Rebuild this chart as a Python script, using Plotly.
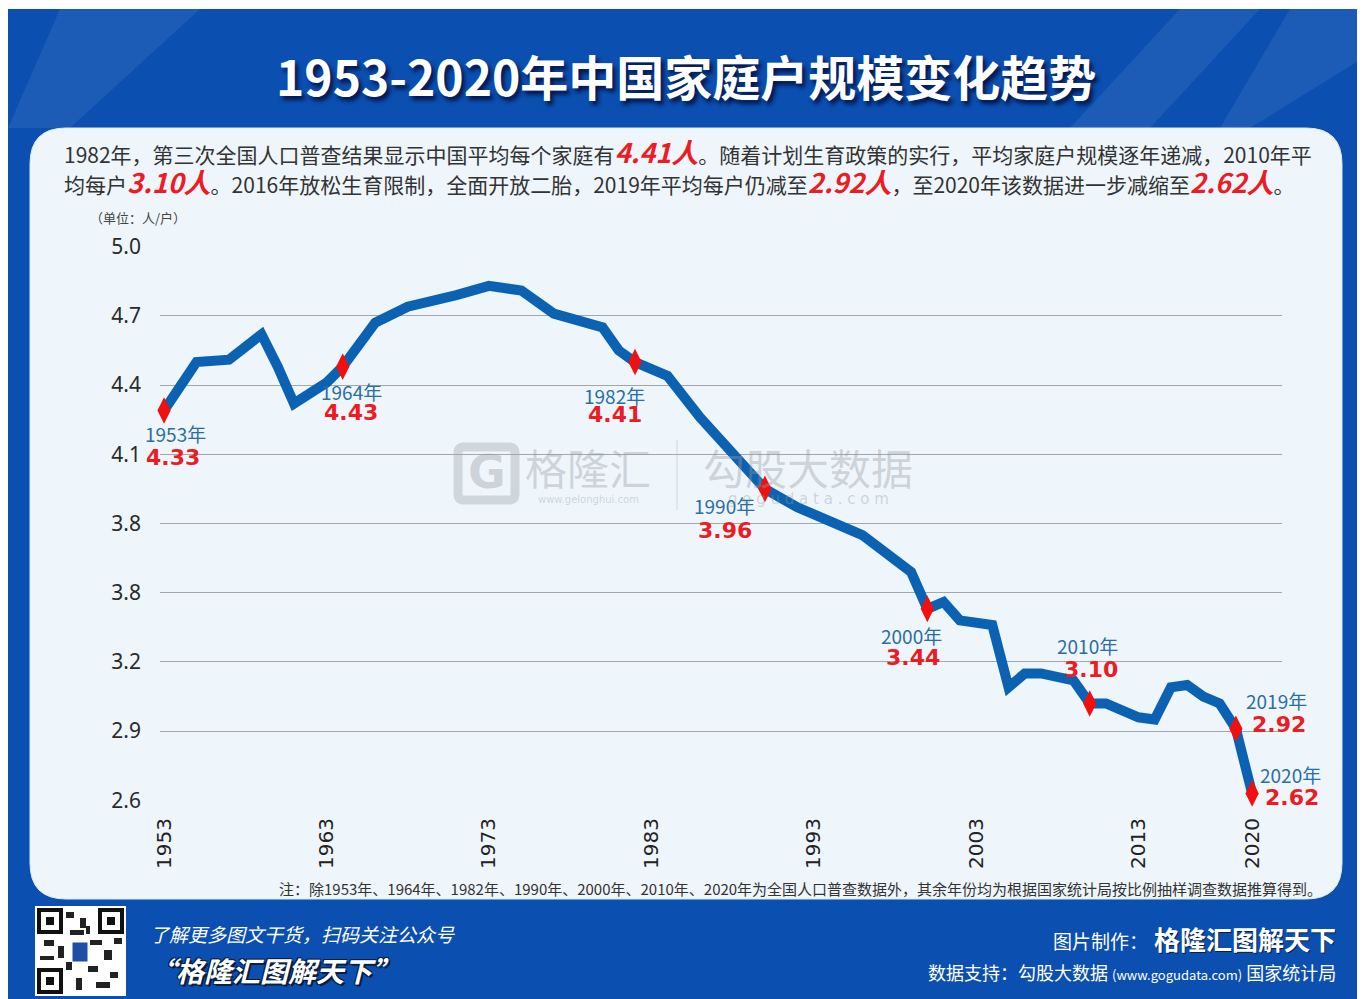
import plotly.graph_objects as go

# ---------------- data ----------------
years = [1953, 1955, 1957, 1959, 1960, 1961, 1963, 1964, 1966, 1968, 1971, 1973,
         1975, 1977, 1980, 1981, 1982, 1984, 1986, 1989, 1990, 1992, 1995, 1996,
         1999, 2000, 2001, 2002, 2004, 2005, 2006, 2007, 2009, 2010, 2011, 2013,
         2014, 2015, 2016, 2017, 2018, 2019, 2020]
household_size = [4.29, 4.50, 4.51, 4.62, 4.48, 4.32, 4.41, 4.48, 4.67, 4.74, 4.79, 4.83,
                  4.81, 4.71, 4.65, 4.55, 4.50, 4.44, 4.26, 4.02, 3.95, 3.87, 3.78, 3.75,
                  3.59, 3.43, 3.46, 3.38, 3.36, 3.09, 3.15, 3.15, 3.12, 3.02, 3.02, 2.96,
                  2.95, 3.09, 3.10, 3.05, 3.02, 2.91, 2.63]

census_years = [1953, 1964, 1982, 1990, 2000, 2010, 2019, 2020]
census_labels = ["4.33", "4.43", "4.41", "3.96", "3.44", "3.10", "2.92", "2.62"]
# label offsets (px) relative to marker: (year dx, year dy, value dx, value dy)
label_offsets = [(11, 23, 9, 47), (9, 25, 8, 46), (-21, 33, -20, 52), (-40, 17, -40, 42),
                 (-16, 27, -14, 49), (-2, -58, 1, -34), (41, -28, 43, -4), (38, -19, 40, 4)]

x_tick_vals = [1953, 1963, 1973, 1983, 1993, 2003, 2013, 2020]
x_tick_text = ["1953", "1963", "1973", "1983", "1993", "2003", "2013", "2020"]
y_tick_vals = [5.0, 4.7, 4.4, 4.1, 3.8, 3.5, 3.2, 2.9, 2.6]
y_tick_text = ["5.0", "4.7", "4.4", "4.1", "3.8", "3.8", "3.2", "2.9", "2.6"]

# ---------------- geometry helpers (page pixel coords, page has 8px body margin) ----------------
OFF = 8
FW, FH = 1352, 991
PL, PR, PT, PB = 160, 1282, 246, 801          # plot area in page pixels
L, R, T, B = PL - OFF, FW - (PR - OFF), PT - OFF, FH - (PB - OFF)
PW = PR - PL
PH = PB - PT


def px(x):
    return (x - PL) / PW


def py(y):
    return (PB - y) / PH


def rrect(x0, y0, x1, y1, r):
    pts = [
        ("M", [(x0 + r, y0)]), ("L", [(x1 - r, y0)]), ("Q", [(x1, y0), (x1, y0 + r)]),
        ("L", [(x1, y1 - r)]), ("Q", [(x1, y1), (x1 - r, y1)]), ("L", [(x0 + r, y1)]),
        ("Q", [(x0, y1), (x0, y1 - r)]), ("L", [(x0, y0 + r)]), ("Q", [(x0, y0), (x0 + r, y0)]),
    ]
    s = ""
    for cmd, ps in pts:
        s += cmd + " " + " ".join(f"{px(a):.5f},{py(b):.5f}" for a, b in ps) + " "
    return s + "Z"


def poly(points):
    return "M " + " L ".join(f"{px(a):.5f},{py(b):.5f}" for a, b in points) + " Z"


CJK = "Noto Sans CJK SC"
RED = "#ec1c24"
TEAL = "#2b6ea3"
LINE_BLUE = "#0b62b2"

fig = go.Figure()

fig.add_trace(go.Scatter(
    x=years, y=household_size, mode="lines",
    line=dict(color=LINE_BLUE, width=10), hoverinfo="skip", showlegend=False))

marker_y = [household_size[years.index(yr)] for yr in census_years]
fig.add_trace(go.Scatter(
    x=census_years, y=marker_y, mode="markers", cliponaxis=False,
    marker=dict(symbol="diamond-tall", size=19, color="#f01010", line=dict(width=0)),
    hoverinfo="skip", showlegend=False))

shapes = []
# blue background frame
shapes.append(dict(type="rect", xref="paper", yref="paper", x0=px(8), x1=px(1360),
                   y0=py(999), y1=py(9), fillcolor="#0b4fb1", line=dict(width=0), layer="below"))
# diagonal light stripes in header
for pts in ([(60, 9), (200, 9), (70, 128), (-70, 128)],
            [(1180, 9), (1260, 9), (1150, 128), (1070, 128)],
            [(1290, 9), (1360, 9), (1360, 60), (1250, 128), (1220, 128)]):
    pts = [(max(8, a), b) for a, b in pts]
    shapes.append(dict(type="path", xref="paper", yref="paper", path=poly(pts),
                       fillcolor="rgba(255,255,255,0.07)", line=dict(width=0), layer="below"))
# inner panel
shapes.append(dict(type="path", xref="paper", yref="paper",
                   path=rrect(30, 128, 1342, 899, 36),
                   fillcolor="#eef6fc", line=dict(color="#dce9f6", width=1), layer="below"))
# QR code placeholder
shapes.append(dict(type="rect", xref="paper", yref="paper", x0=px(35), x1=px(126),
                   y0=py(996), y1=py(906), fillcolor="white", line=dict(width=0), layer="below"))
for (qx, qy) in [(39, 910), (100, 910), (39, 970)]:
    shapes.append(dict(type="rect", xref="paper", yref="paper", x0=px(qx), x1=px(qx + 22),
                       y0=py(qy + 22), y1=py(qy), fillcolor="white",
                       line=dict(color="#111", width=4), layer="below"))
    shapes.append(dict(type="rect", xref="paper", yref="paper", x0=px(qx + 7), x1=px(qx + 15),
                       y0=py(qy + 15), y1=py(qy + 7), fillcolor="#111",
                       line=dict(width=0), layer="below"))
for (qx, qy, w, h) in [(66, 912, 8, 6), (80, 918, 6, 10), (70, 930, 14, 5), (44, 940, 10, 6),
                       (58, 946, 6, 12), (90, 940, 12, 5), (104, 950, 8, 10), (66, 962, 6, 8),
                       (88, 966, 10, 6), (76, 978, 6, 12), (96, 982, 14, 6), (110, 972, 8, 6),
                       (40, 956, 14, 4), (86, 926, 4, 8), (114, 938, 8, 6)]:
    shapes.append(dict(type="rect", xref="paper", yref="paper", x0=px(qx), x1=px(qx + w),
                       y0=py(qy + h), y1=py(qy), fillcolor="#222", line=dict(width=0),
                       layer="below"))
shapes.append(dict(type="rect", xref="paper", yref="paper", x0=px(72), x1=px(88),
                   y0=py(962), y1=py(942), fillcolor="#1e4fa8", line=dict(color="white", width=1),
                   layer="below"))
# watermark logo box + divider
shapes.append(dict(type="path", xref="paper", yref="paper",
                   path=rrect(458, 447, 515, 500, 6), fillcolor="rgba(0,0,0,0)",
                   line=dict(color="rgba(150,155,160,0.35)", width=9), layer="below"))
shapes.append(dict(type="line", xref="paper", yref="paper", x0=px(677), x1=px(677),
                   y0=py(440), y1=py(510), line=dict(color="rgba(150,155,160,0.35)", width=1),
                   layer="below"))

annotations = []


def ann(text, x, y, size, color, family=CJK, xanchor="center", weight="normal",
        style="normal", shadow="none", opacity=1.0):
    annotations.append(dict(text=text, xref="paper", yref="paper", x=px(x), y=py(y),
                            xanchor=xanchor, yanchor="middle", showarrow=False,
                            opacity=opacity,
                            font=dict(family=family, size=size, color=color, weight=weight,
                                      style=style, shadow=shadow)))


# title
ann("1953-2020年中国家庭户规模变化趋势", 686, 75, 48, "white", weight="bold",
    shadow="3px 4px 4px rgba(0,0,40,0.75)")

# description
red_span = '<span style="color:%s;font-size:27px;font-weight:bold;font-style:italic">%s</span>'
ann("1982年，第三次全国人口普查结果显示中国平均每个家庭有" + red_span % (RED, "4.41人")
    + "。随着计划生育政策的实行，平均家庭户规模逐年递减，2010年平",
    62, 151, 21, "#333333", xanchor="left")
ann("均每户" + red_span % (RED, "3.10人") + "。2016年放松生育限制，全面开放二胎，2019年平均每户仍减至"
    + red_span % (RED, "2.92人") + "，至2020年该数据进一步减缩至" + red_span % (RED, "2.62人") + "。",
    62, 181, 21, "#333333", xanchor="left")

ann("（单位：人/户）", 88, 217, 13, "#444444", xanchor="left")

# watermark
wm = "rgba(150,155,160,0.38)"
ann("G", 487, 472, 46, wm, family="DejaVu Sans", weight="bold")
ann("格隆汇", 588, 466, 42, wm)
ann("www.gelonghui.com", 588, 499, 10, wm, family="DejaVu Sans")
ann("勾股大数据", 808, 466, 42, wm)
ann("g o g u d a t a . c o m", 808, 499, 15, wm, family="DejaVu Sans")

# note
ann("注：除1953年、1964年、1982年、1990年、2000年、2010年、2020年为全国人口普查数据外，"
    "其余年份均为根据国家统计局按比例抽样调查数据推算得到。",
    800, 888, 15, "#333333")

# footer
ann("了解更多图文干货，扫码关注公众号", 148, 933, 19, "white", xanchor="left", style="italic")
ann("“格隆汇图解天下”", 146, 970, 28, "white", xanchor="left", weight="bold", style="italic",
    shadow="2px 2px 0 #0a1e40, -1px -1px 0 #0a1e40, 1px -1px 0 #0a1e40, -1px 1px 0 #0a1e40")
ann("图片制作：", 1150, 940, 19, "white", xanchor="right")
ann("格隆汇图解天下", 1338, 938, 26, "white", xanchor="right", weight="bold",
    shadow="1px 1px 0 #0a1e40")
ann("数据支持：勾股大数据 <span style='font-size:13px'>(www.gogudata.com)</span> 国家统计局",
    1338, 972, 18, "white", xanchor="right")

# census labels
for yr, lab, (ydx, ydy, vdx, vdy) in zip(census_years, census_labels, label_offsets):
    v = household_size[years.index(yr)]
    annotations.append(dict(text=f"{yr}年", x=yr, y=v, xref="x", yref="y", showarrow=False,
                            xshift=ydx, yshift=-ydy, xanchor="center", yanchor="middle",
                            font=dict(family=CJK, size=19, color=TEAL)))
    annotations.append(dict(text=lab, x=yr, y=v, xref="x", yref="y", showarrow=False,
                            xshift=vdx, yshift=-vdy, xanchor="center", yanchor="middle",
                            font=dict(family="DejaVu Sans", size=22, color=RED, weight="bold")))

fig.update_layout(
    width=FW, height=FH,
    margin=dict(l=L, r=R, t=T, b=B, autoexpand=False),
    paper_bgcolor="white", plot_bgcolor="rgba(0,0,0,0)",
    shapes=shapes, annotations=annotations, showlegend=False,
    xaxis=dict(range=[1952.75, 2021.84], tickmode="array", tickvals=x_tick_vals,
               ticktext=x_tick_text, tickangle=-90, showgrid=False, zeroline=False,
               showline=False, ticks="", ticklabelstandoff=12,
               tickfont=dict(family="DejaVu Sans", size=20, color="#222222")),
    yaxis=dict(range=[2.597, 5.003], tickmode="array", tickvals=y_tick_vals,
               ticktext=y_tick_text, showgrid=True, gridcolor="#a3a6aa", gridwidth=1.2,
               zeroline=False, showline=False, ticks="", ticklabelstandoff=18,
               tickfont=dict(family="Noto Sans", size=21, color="#2a2a2a")),
)

fig.write_html("out.html")
